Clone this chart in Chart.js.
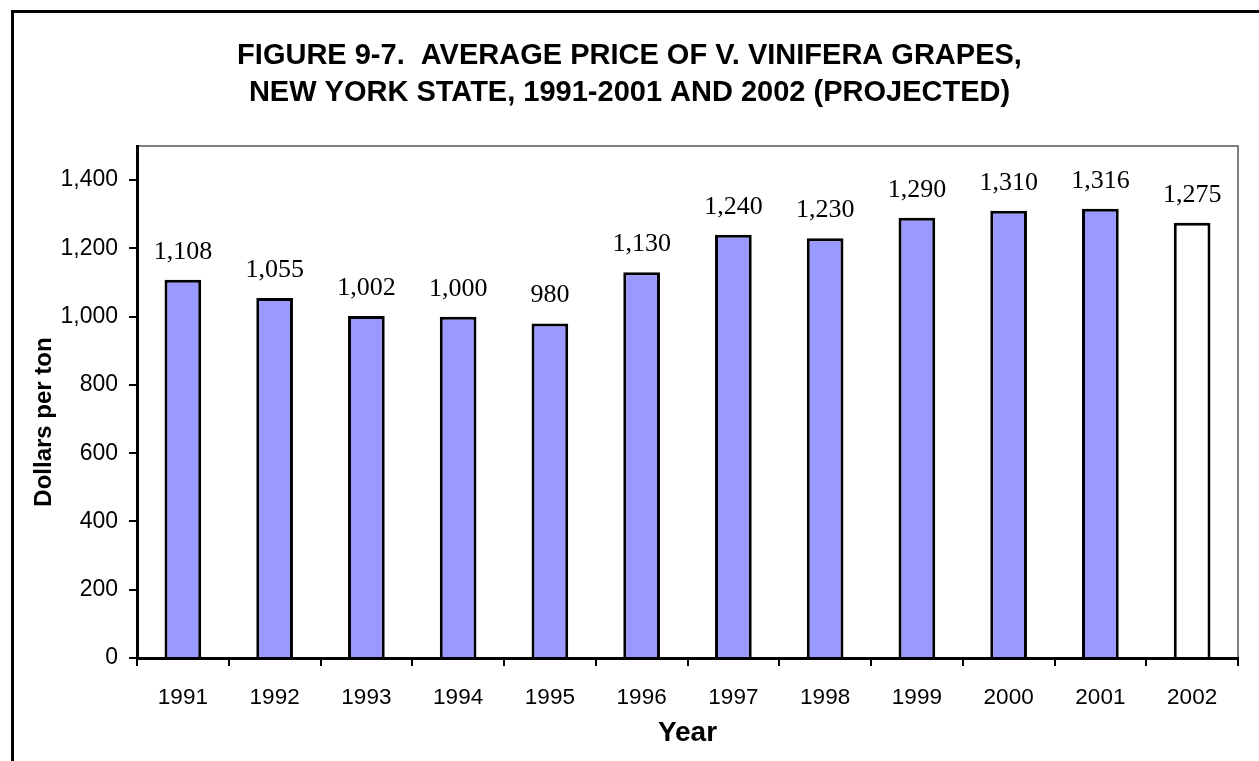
<!DOCTYPE html>
<html>
<head>
<meta charset="utf-8">
<title>Average price of V. vinifera grapes</title>
<script src="https://cdn.jsdelivr.net/npm/chart.js@4/dist/chart.umd.min.js"></script>
<style>
  html, body { margin: 0; padding: 0; background: #fff; }
  #wrap { width: 1259px; height: 761px; }
</style>
</head>
<body>
<div id="wrap"><canvas id="barChart" width="1259" height="761"></canvas></div>
<script>
// data
const years = ['1991', '1992', '1993', '1994', '1995', '1996', '1997', '1998', '1999', '2000', '2001', '2002']
const prices = [1108, 1055, 1002, 1000, 980, 1130, 1240, 1230, 1290, 1310, 1316, 1275]
const projectedYear = '2002'
const yTickValues = [0, 200, 400, 600, 800, 1000, 1200, 1400]

const sans = '"Liberation Sans", Arial, sans-serif'
const serif = '"Liberation Serif", "Times New Roman", serif'

// outer frame (left + top only) and grey top/right edge of the plot area
const framePlugin = {
  id: 'frame',
  beforeDraw(chart) {
    const ctx = chart.ctx
    const a = chart.chartArea
    ctx.save()
    ctx.strokeStyle = '#000'
    ctx.lineWidth = 3
    ctx.beginPath()
    ctx.moveTo(12.5, chart.height)
    ctx.lineTo(12.5, 11.5)
    ctx.lineTo(chart.width, 11.5)
    ctx.stroke()

    ctx.strokeStyle = '#808080'
    ctx.lineWidth = 2
    ctx.beginPath()
    ctx.moveTo(a.left, a.top)
    ctx.lineTo(a.right, a.top)
    ctx.lineTo(a.right, a.bottom)
    ctx.stroke()
    ctx.restore()
  },
}

// value labels above each bar
const valueLabels = {
  id: 'valueLabels',
  afterDatasetsDraw(chart) {
    const ctx = chart.ctx
    const meta = chart.getDatasetMeta(0)
    ctx.save()
    ctx.font = '26px ' + serif
    ctx.fillStyle = '#000'
    ctx.textAlign = 'center'
    ctx.textBaseline = 'alphabetic'
    meta.data.forEach(function (bar, i) {
      ctx.fillText(prices[i].toLocaleString('en-US'), bar.x, bar.y - 21)
    })
    ctx.restore()
  },
}

const chart = new Chart(document.getElementById('barChart'), {
  type: 'bar',
  data: {
    labels: years,
    datasets: [{
      data: prices,
      backgroundColor: years.map(y => y === projectedYear ? '#FFFFFF' : '#9999FF'),
      borderColor: '#000',
      borderWidth: 3,
      barPercentage: 0.4,
      categoryPercentage: 1,
    }],
  },
  options: {
    responsive: false,
    animation: false,
    // symmetric side padding keeps the title centred on the page
    layout: { padding: { left: 21, right: 21, top: 0, bottom: 0 } },
    plugins: {
      legend: { display: false },
      tooltip: { enabled: false },
      title: {
        display: true,
        text: ['FIGURE 9-7.  AVERAGE PRICE OF V. VINIFERA GRAPES,', 'NEW YORK STATE, 1991-2001 AND 2002 (PROJECTED)'],
        color: '#000',
        font: { family: sans, size: 29, weight: 'bold', lineHeight: 37 / 29 },
        padding: { top: 37.5, bottom: 34.5 },
      },
    },
    scales: {
      x: {
        grid: { offset: true, drawOnChartArea: false, drawTicks: true, tickLength: 8, color: '#000', lineWidth: 2 },
        border: { color: '#000', width: 3 },
        ticks: { color: '#000', font: { family: sans, size: 22.5 }, padding: 18, maxRotation: 0 },
        title: {
          display: true,
          text: 'Year',
          color: '#000',
          font: { family: sans, size: 28, weight: 'bold' },
          padding: { top: 0, bottom: 11 },
        },
        afterFit(scale) { scale.height = 103 },
      },
      y: {
        min: 0,
        max: 1500,
        afterBuildTicks(scale) {
          scale.ticks = yTickValues.map(v => ({ value: v }))
        },
        grid: { drawOnChartArea: false, drawTicks: true, tickLength: 8, color: '#000', lineWidth: 2 },
        border: { color: '#000', width: 3 },
        ticks: {
          color: '#000',
          font: { family: sans, size: 23 },
          padding: 11,
          callback: v => v.toLocaleString('en-US'),
        },
        title: {
          display: true,
          text: 'Dollars per ton      ',
          color: '#000',
          font: { family: sans, size: 24, weight: 'bold' },
          padding: { top: 9, bottom: 0 },
        },
        afterFit(scale) { scale.width = 116 },
      },
    },
  },
  plugins: [framePlugin, valueLabels],
})
</script>
</body>
</html>
